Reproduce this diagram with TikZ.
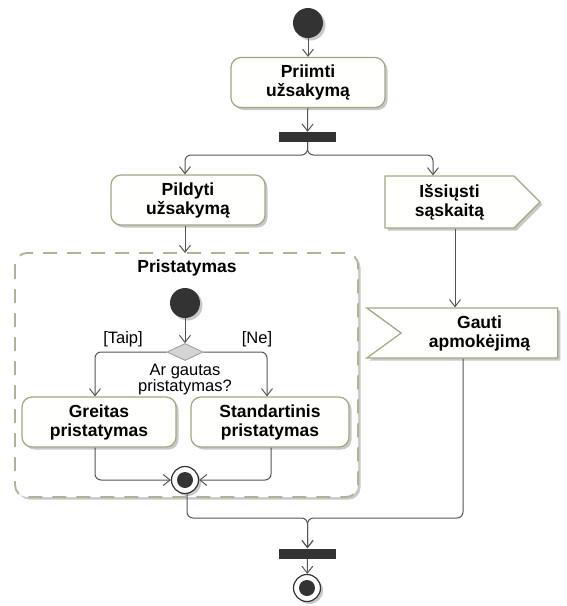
\documentclass[tikz,border=0pt]{standalone}
\usepackage{fontspec}
\setmainfont{Liberation Sans}
\usetikzlibrary{arrows.meta,shapes.geometric,shapes.symbols,shadows}

\definecolor{boxfill}{HTML}{FFFFFD}
\definecolor{boxline}{HTML}{A5A585}
\definecolor{flowline}{HTML}{555555}
\definecolor{solid}{HTML}{333333}
\definecolor{regionline}{HTML}{B3B196}
\definecolor{shadowgray}{HTML}{C8C8C8}

\tikzset{
  castshadow/.style={drop shadow={shadow xshift=2.5pt,shadow yshift=-2.5pt,fill=shadowgray,opacity=1}},
  action/.style={shape=rectangle,rounded corners=10pt,draw=boxline,line width=1.2pt,
    fill=boxfill,castshadow,minimum width=154pt,minimum height=50pt,align=center,
    font=\fontsize{17.5}{19}\selectfont\bfseries,inner sep=2pt},
  sendsig/.style={shape=signal,signal to=east,signal from=nowhere,signal pointer angle=90,
    draw=boxline,line width=1.2pt,fill=boxfill,castshadow,minimum height=52pt,align=center,
    font=\fontsize{17.5}{19}\selectfont\bfseries},
  acceptsig/.style={shape=signal,signal to=nowhere,signal from=west,signal pointer angle=72,
    draw=boxline,line width=1.2pt,fill=boxfill,castshadow,minimum height=50pt,align=center,
    font=\fontsize{17.5}{19}\selectfont\bfseries},
  startdot/.style={circle,fill=solid,minimum size=30pt,inner sep=0pt,castshadow},
  enddot/.style={circle,draw=solid,line width=1.2pt,fill=white,minimum size=27pt,inner sep=0pt,castshadow},
  bullseye/.style={circle,fill=solid,minimum size=16pt,inner sep=0pt},
  bar/.style={rectangle,fill=solid,minimum width=57pt,minimum height=10pt,inner sep=0pt},
  choice/.style={diamond,draw=black!40,fill=black!17,line width=.8pt,minimum width=36pt,
    minimum height=17pt,inner sep=0pt},
  flow/.style={draw=flowline,line width=1pt,rounded corners=6pt,
    -{Straight Barb[length=7pt,width=11pt,line width=1pt]}},
  region/.style={draw=regionline,line width=1.8pt,dash pattern=on 14pt off 10pt,rounded corners=12pt,
    castshadow,fill=white},
  caption/.style={font=\fontsize{16.5}{16}\selectfont,align=center,inner sep=0pt},
  title/.style={font=\fontsize{17.5}{19}\selectfont\bfseries,inner sep=0pt}
}

\begin{document}
\begin{tikzpicture}[x=1pt,y=-1pt]
\useasboundingbox[fill=white] (0,0) rectangle (566,606);

% sub-activity frame
\path[region] (15,253) rectangle (358,497);
\node[title] (ptitle) at (187,268) {Pristatymas};

% main flow nodes
\node[startdot] (init) at (308,23) {};
\node[action] (priimti) at (308,82.5) {Priimti\\užsakymą};
\node[bar] (fork) at (307.5,137) {};
\node[action] (pildyti) at (188,200) {Pildyti\\užsakymą};
\node[sendsig,minimum width=155pt] (send) at (449.5,202) {Išsiųsti\\sąskaitą};
\node[acceptsig,minimum width=191pt] (gauti) at (479.5,333) {Gauti\\apmokėjimą};
\node[bar] (join) at (307.5,553.5) {};
\node[enddot] (final) at (307,588) {};
\node[bullseye] (finaldot) at (final.center) {};

% inner flow nodes
\node[startdot] (iinit) at (185,303) {};
\node[choice] (dec) at (185,352) {};
\node[caption] (q) at (185,380) {Ar gautas\\pristatymas?};
\node[caption] (yes) at (123,339) {[Taip]};
\node[caption] (no) at (257,339) {[Ne]};
\node[action] (greitas) at (99,422) {Greitas\\pristatymas};
\node[action,minimum width=158pt] (stand) at (270,422) {Standartinis\\pristatymas};
\node[enddot] (ifinal) at (185,480) {};
\node[bullseye] (ifinaldot) at (ifinal.center) {};

% connectors
\draw[flow] (init) -- (priimti);
\draw[flow] (priimti) -- (fork);
\draw[flow] (fork.south) -- (307.5,155) -| (pildyti.north -| 185,0);
\draw[flow] (fork.south) -- (307.5,155) -| (send.north -| 433,0);
\draw[flow] (pildyti.south -| 185,0) -- (185,253);
\draw[flow] (iinit) -- (dec);
\draw[flow] (dec.west) -| (greitas.north -| 95,0);
\draw[flow] (dec.east) -| (stand.north -| 267,0);
\draw[flow] (greitas.south -| 95,0) |- (ifinal.west);
\draw[flow] (stand.south -| 271,0) |- (ifinal.east);
\draw[flow] (send.south -| 455,0) -- (gauti.north -| 455,0);
\draw[flow] (ifinal.south -| 187,0) |- (307.5,518) -- (join.north);
\draw[flow] (gauti.south -| 463,0) |- (307.5,518) -- (join.north);
\draw[flow] (join) -- (final);
\end{tikzpicture}
\end{document}
